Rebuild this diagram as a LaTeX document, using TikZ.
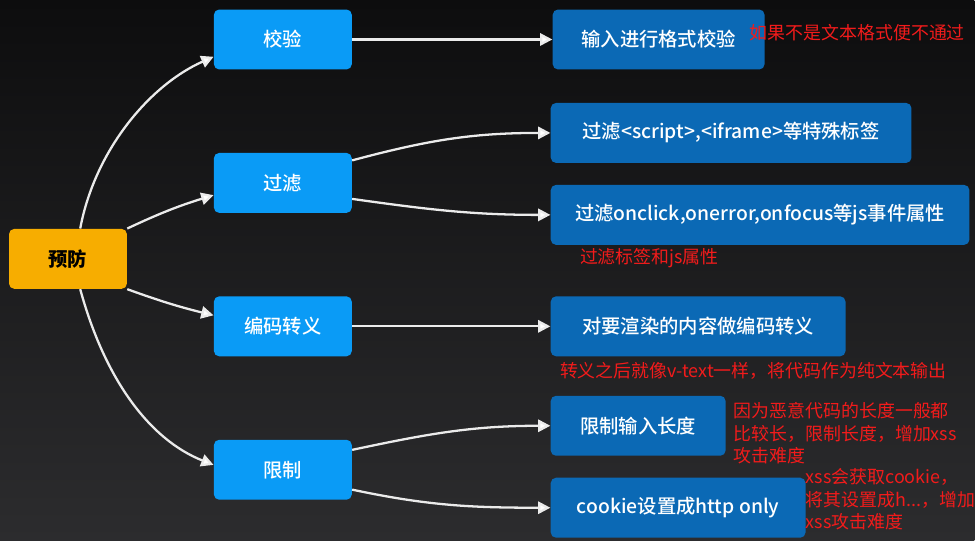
\documentclass[tikz,border=0pt]{standalone}
\usepackage{fontspec}
\setmainfont{Noto Sans CJK SC}
\newfontfamily\boxfont{Noto Sans CJK SC Medium}
\usetikzlibrary{arrows.meta}

\definecolor{bgtop}{HTML}{0D0D0E}
\definecolor{bgbot}{HTML}{2C2C2E}
\definecolor{rootc}{HTML}{F7AD00}
\definecolor{midc}{HTML}{0A9BF6}
\definecolor{leafc}{HTML}{0B69B5}
\definecolor{notec}{HTML}{F21B1B}

\begin{document}
\begin{tikzpicture}[x=0.02cm, y=-0.02cm,
	box/.style={rounded corners=3pt, minimum height=1.2cm, inner sep=0pt, font=\fontsize{11}{13}\boxfont},
	rootbox/.style={box, fill=rootc, text=black, minimum width=2.36cm, font=\fontsize{11}{13}\selectfont\bfseries},
	midbox/.style={box, fill=midc, text=white, minimum width=2.76cm},
	leafbox/.style={box, fill=leafc, text=white},
	note/.style={anchor=west, inner sep=0pt, text=notec, align=left, font=\fontsize{10.2}{13}\selectfont},
	arr/.style={white!92!black, line width=1.3pt, -{Triangle[length=7pt, width=7pt, fill=white]}}]
			\fill[top color=bgtop, bottom color=bgbot] (0,0) rectangle (975,541);
			\node[rootbox](yufang) at (68,259){预防};
			\node[midbox](jiaoyan) at (283,39.5){校验};
			\node[midbox](guolv) at (283,183){过滤};
			\node[midbox](bianma) at (283,326.5){编码转义};
			\node[midbox](xianzhi) at (283,470){限制};
			\node[leafbox, minimum width=4.24cm](shuru) at (659,39.5){输入进行格式校验};
			\node[leafbox, minimum width=7.22cm](biaoqian) at (731.5,133){过滤<script>,<iframe>等特殊标签};
			\node[leafbox, minimum width=8.38cm](shuxing) at (760.5,215){过滤onclick,onerror,onfocus等js事件属性};
			\node[leafbox, minimum width=5.9cm](zhuanyi) at (698.5,326.5){对要渲染的内容做编码转义};
			\node[leafbox, minimum width=3.5cm](changdu) at (638.5,426){限制输入长度};
			\node[leafbox, minimum width=5.1cm](cookie) at (678.5,508){cookie设置成http only};
			\node[note](n1) at (750,33){如果不是文本格式便不通过};
			\node[note](n2) at (580,258){过滤标签和js属性};
			\node[note](n3) at (560,371){转义之后就像v-text一样，将代码作为纯文本输出};
			\node[note](n4) at (734,433.5){因为恶意代码的长度一般都\\比较长，限制长度，增加xss\\攻击难度};
			\node[note](n5) at (806,499.5){xss会获取cookie，\\将其设置成h...，增加\\xss攻击难度};
			\draw[arr] (yufang.68) .. controls (95,150) and (150,85) .. (jiaoyan.194);
			\draw[arr] (yufang.north east) to[bend left=4] (guolv.190);
			\draw[arr] (yufang.south east) to[bend right=3] (bianma.171);
			\draw[arr] (yufang.292) .. controls (105,380) and (150,440) .. (xianzhi.176);
			\draw[arr] (jiaoyan.east) -- (shuru.west);
			\draw[arr] (guolv.18) to[out=15, in=180] (biaoqian.west);
			\draw[arr] (guolv.-13) to[out=-8, in=180] (shuxing.west);
			\draw[arr] (bianma.east) -- (zhuanyi.west);
			\draw[arr] (xianzhi.16) to[out=12, in=180] (changdu.west);
			\draw[arr] (xianzhi.-16) to[out=-12, in=180] (cookie.west);
\end{tikzpicture}
\end{document}
